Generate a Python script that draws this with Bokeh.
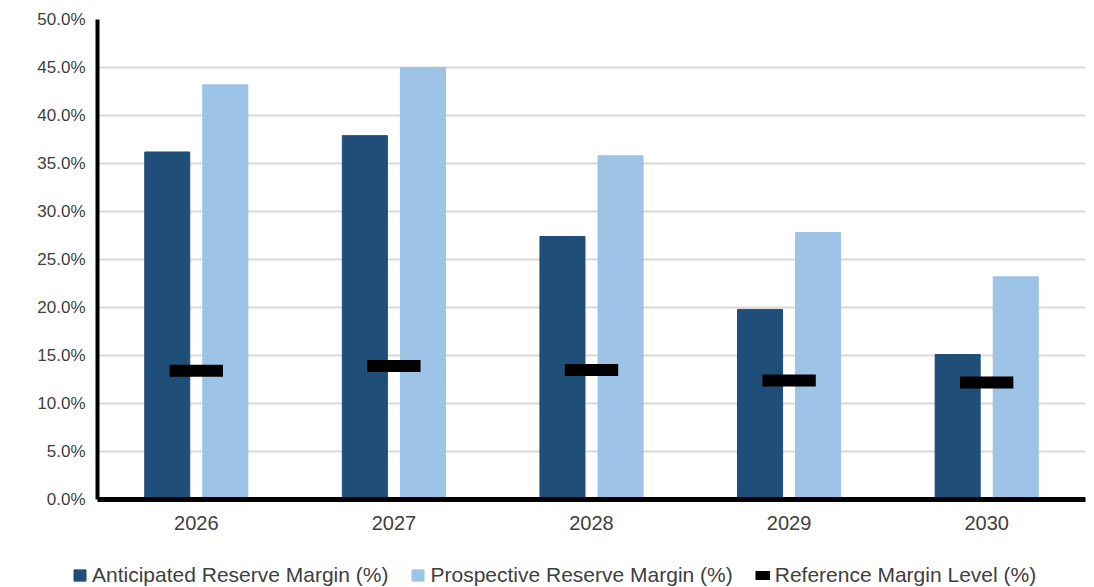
from bokeh.plotting import figure
from bokeh.layouts import column
from bokeh.models import (FactorRange, Range1d, Legend, LegendItem,
                          PrintfTickFormatter, FixedTicker, ColumnDataSource)
from bokeh.transform import dodge
from bokeh.embed import file_html
from bokeh.resources import INLINE

years = ["2026", "2027", "2028", "2029", "2030"]
anticipated = [36.2, 37.9, 27.4, 19.8, 15.1]
prospective = [43.2, 45.0, 35.8, 27.8, 23.2]
reference = [13.4, 13.9, 13.5, 12.4, 12.2]
y_ticks = [0, 5, 10, 15, 20, 25, 30, 35, 40, 45, 50]
labels = ["Anticipated Reserve Margin (%)", "Prospective Reserve Margin (%)",
          "Reference Margin Level (%)"]

DARK = "#1F4E79"
LIGHT = "#9DC3E6"
FONT = "Liberation Sans"

src = ColumnDataSource(dict(year=years, ant=anticipated, pro=prospective, ref=reference))

p = figure(x_range=FactorRange(*years), y_range=Range1d(0, 50),
           width=1086, height=545, output_backend="svg", toolbar_location=None,
           min_border_left=97, min_border_right=1, min_border_top=19, min_border_bottom=46)
p.outline_line_color = None
p.background_fill_color = "white"
p.border_fill_color = "white"

p.vbar(x=dodge("year", -0.147, range=p.x_range), top="ant", width=0.228,
       source=src, fill_color=DARK, line_color=DARK)
p.vbar(x=dodge("year", 0.147, range=p.x_range), top="pro", width=0.228,
       source=src, fill_color=LIGHT, line_color=LIGHT)
p.segment(x0=dodge("year", -0.135, range=p.x_range), x1=dodge("year", 0.135, range=p.x_range),
          y0="ref", y1="ref", source=src, line_color="black", line_width=12, line_cap="butt")

# axes
p.yaxis.ticker = FixedTicker(ticks=y_ticks)
p.yaxis.formatter = PrintfTickFormatter(format="%.1f%%")
for ax in (p.xaxis[0], p.yaxis[0]):
    ax.major_tick_line_color = None
    ax.minor_tick_line_color = None
    ax.axis_line_color = "black"
    ax.major_label_text_font = FONT
    ax.major_label_text_color = "#404040"
p.yaxis.axis_line_width = 4
p.xaxis.axis_line_width = 5
p.yaxis.major_label_text_font_size = "17px"
p.xaxis.major_label_text_font_size = "20px"
p.yaxis.major_label_standoff = 12
p.xaxis.major_label_standoff = 16
p.xaxis.major_tick_out = 0
p.yaxis.major_tick_out = 0

p.xgrid.grid_line_color = None
p.ygrid.ticker = FixedTicker(ticks=y_ticks)
p.ygrid.grid_line_color = "#d9d9d9"
p.ygrid.grid_line_width = 2

# legend strip below the chart
lg = figure(width=1086, height=42, x_range=Range1d(0, 1), y_range=Range1d(0, 1),
            output_backend="svg", toolbar_location=None,
            x_axis_location=None, y_axis_location=None,
            min_border_left=0, min_border_right=0, min_border_top=0, min_border_bottom=0)
lg.outline_line_color = None
lg.grid.grid_line_color = None

has_fa = "frame_align" in lg.properties()
if has_fa:
    p.frame_align = False
    lg.frame_align = False

# legend-only renderers (their single point lies outside the visible range)
off = ColumnDataSource(dict(x=[5], top=[5], x0=[5], x1=[6], y0=[5], y1=[5]))
l1 = lg.vbar(x="x", top="top", width=0.1, source=off, fill_color=DARK, line_color=DARK)
l2 = lg.vbar(x="x", top="top", width=0.1, source=off, fill_color=LIGHT, line_color=LIGHT)
l3 = lg.segment(x0="x0", x1="x1", y0="y0", y1="y1", source=off,
                line_color="black", line_width=9, line_cap="butt")

legend = Legend(items=[
    LegendItem(label=labels[0], renderers=[l1]),
    LegendItem(label=labels[1], renderers=[l2]),
    LegendItem(label=labels[2], renderers=[l3]),
], orientation="horizontal", location=((72 if has_fa else 0), 0),
    glyph_width=15, glyph_height=14, label_standoff=5, spacing=22,
    padding=3, margin=0, border_line_color=None, background_fill_alpha=0,
    label_text_font=FONT, label_text_font_size="21px", label_text_color="#404040")
lg.add_layout(legend, "center")

open("out.html", "w").write(file_html(column(p, lg, spacing=0), INLINE))
